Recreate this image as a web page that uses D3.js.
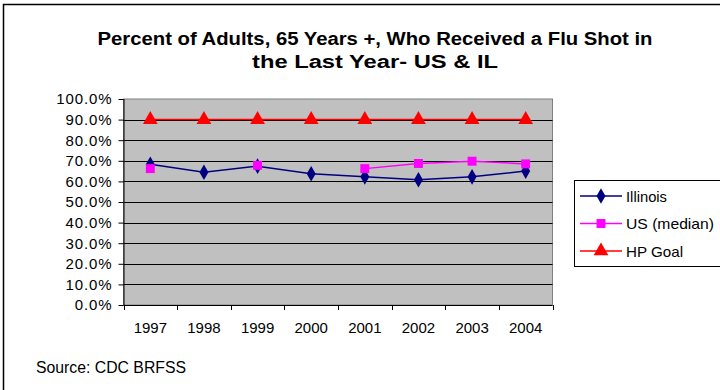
<!DOCTYPE html>
<html><head><meta charset="utf-8">
<script src="https://cdn.jsdelivr.net/npm/d3@7"></script>
<style>body{margin:0;background:#fff}svg{display:block;font-family:"Liberation Sans",Arial,sans-serif}</style>
</head><body><svg id="c" width="720" height="390"></svg>
<script>
const years = ["1997","1998","1999","2000","2001","2002","2003","2004"];
const illinois = [68.3, 64.4, 67.4, 63.7, 62.2, 60.8, 62.2, 65.0];
const usMedian = [66.2, null, 67.8, null, 66.2, 68.7, 69.8, 68.5];
const hpGoal = [90, 90, 90, 90, 90, 90, 90, 90];
const yTicks = [0,10,20,30,40,50,60,70,80,90,100];
const titleLines = ["Percent of Adults, 65 Years +, Who Received a Flu Shot in","the Last Year- US & IL"];
const seriesNames = ["Illinois","US (median)","HP Goal"];
const colors = ["#000080","#FF00FF","#FF0000"];

const svg = d3.select("#c");
svg.append("rect").attr("x",3.5).attr("y",4.5).attr("width",730).attr("height",400)
  .attr("fill","#fff").attr("stroke","#000").attr("stroke-width",1.5);

const L=123.5, R=552.5, T=99, B=305;
const x = d3.scaleBand().domain(years).range([L,R]);
const y = d3.scaleLinear().domain([0,100]).range([B,T]);

svg.append("rect").attr("x",L).attr("y",T).attr("width",R-L).attr("height",B-T)
  .attr("fill","#C0C0C0").attr("stroke","#808080");

// gridlines
svg.append("g").selectAll("line").data(yTicks.filter(d=>d>0&&d<100)).join("line")
  .attr("x1",L).attr("x2",R).attr("y1",d=>Math.round(y(d))+0.5).attr("y2",d=>Math.round(y(d))+0.5)
  .attr("stroke","#000").attr("stroke-width",1);

const ya = svg.append("g").attr("transform",`translate(${L},0)`)
  .call(d3.axisLeft(y).tickValues(yTicks).tickSize(5).tickPadding(6).tickFormat(d=>d.toFixed(1)+"%"));
ya.selectAll("text").attr("font-size","15px").attr("fill","#000").attr("letter-spacing","0.9px")
  .attr("font-family","Liberation Sans, Arial, sans-serif");
ya.selectAll("line,path").attr("stroke","#000");
ya.select("path").attr("d",`M0.5,${T}V${B}`);

const xa = svg.append("g").attr("transform",`translate(0,${B})`)
  .call(d3.axisBottom(x).tickSize(0).tickPadding(17));
xa.selectAll("text").attr("font-size","15px").attr("fill","#000").attr("font-family","Liberation Sans, Arial, sans-serif");
xa.select("path").attr("d",`M${L},0.5H${R}`).attr("stroke","#000");
xa.selectAll(".bt").data(years.concat(["end"])).join("line").attr("class","bt")
  .attr("x1",(d,i)=>Math.round(L+i*x.step())+0.5).attr("x2",(d,i)=>Math.round(L+i*x.step())+0.5)
  .attr("y1",0).attr("y2",5).attr("stroke","#000");

const cx = d=>x(d)+x.bandwidth()/2;
const data = [illinois, usMedian, hpGoal];
const symbols = [d3.symbolDiamond, d3.symbolSquare, d3.symbolTriangle];
const sizes = [70, 80, 95];

data.forEach((vals,si)=>{
  const line = d3.line().defined(d=>d!=null).x((d,i)=>cx(years[i])).y(d=>y(d));
  svg.append("path").attr("d",line(vals)).attr("fill","none").attr("stroke",colors[si]).attr("stroke-width",1.5);
  svg.append("g").selectAll("path").data(vals.map((v,i)=>({v,i})).filter(d=>d.v!=null)).join("path")
    .attr("transform",d=>`translate(${cx(years[d.i])},${y(d.v)})`)
    .attr("d",d3.symbol().type(symbols[si]).size(sizes[si])).attr("fill",colors[si]);
});

// title
const titleLen = [555, 246];
svg.append("g").selectAll("text").data(titleLines).join("text")
  .attr("x",375).attr("y",(d,i)=>45+i*23).attr("text-anchor","middle")
  .attr("font-size","18px").attr("font-weight","bold")
  .attr("textLength",(d,i)=>titleLen[i]).attr("lengthAdjust","spacingAndGlyphs").text(d=>d);

// legend
svg.append("rect").attr("x",574.5).attr("y",180.5).attr("width",160).attr("height",86)
  .attr("fill","#fff").attr("stroke","#000");
const legLen = [41, 88, 57];
seriesNames.forEach((n,i)=>{
  const ly = 196 + i*27.5;
  const g = svg.append("g");
  g.append("line").attr("x1",580).attr("x2",622).attr("y1",ly).attr("y2",ly).attr("stroke",colors[i]).attr("stroke-width",1.5);
  g.append("path").attr("transform",`translate(601,${ly})`).attr("d",d3.symbol().type(symbols[i]).size(sizes[i])).attr("fill",colors[i]);
  g.append("text").attr("x",626).attr("y",ly+5.5).attr("font-size","15px")
    .attr("textLength",legLen[i]).attr("lengthAdjust","spacingAndGlyphs").text(n);
});

svg.append("text").attr("x",36).attr("y",373).attr("font-size","16px")
  .attr("textLength",150).attr("lengthAdjust","spacingAndGlyphs").text("Source: CDC BRFSS");
</script></body></html>
